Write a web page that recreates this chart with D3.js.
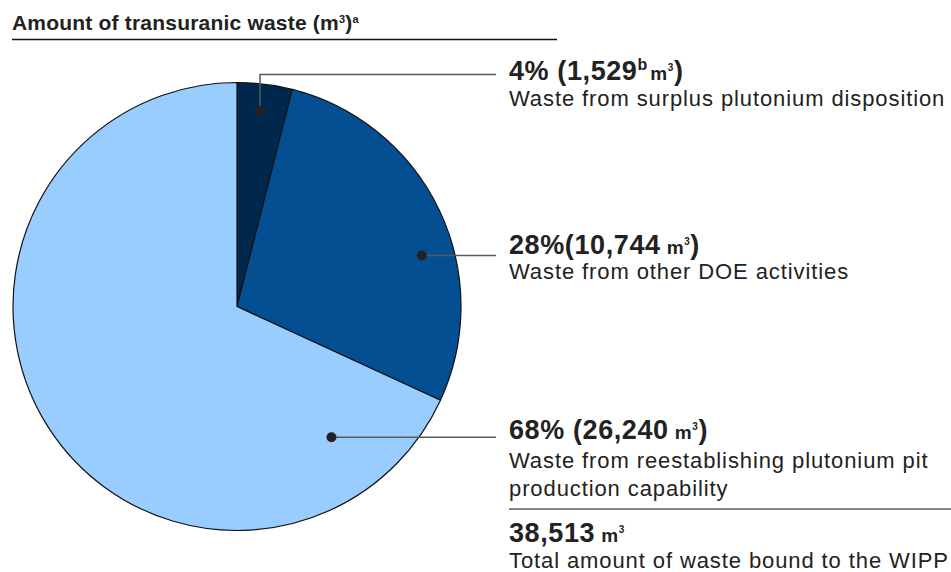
<!DOCTYPE html>
<html>
<head>
<meta charset="utf-8">
<script src="https://cdn.jsdelivr.net/npm/d3@7"></script>
<style>
  body { margin: 0; background: #fff; }
  svg { display: block; font-family: "Liberation Sans", Arial, sans-serif; }
</style>
</head>
<body>
<svg id="chart"></svg>
<script>
// data
const title = "Amount of transuranic waste (m";
const categories = [
  ["Waste from surplus plutonium disposition"],
  ["Waste from other DOE activities"],
  ["Waste from reestablishing plutonium pit", "production capability"]
];
const volumes = [1529, 10744, 26240];
const percents = [4, 28, 68];
const footnotes = ["b", "", ""];
const totalVolume = 38513;
const totalLabel = "Total amount of waste bound to the WIPP";
const colors = ["#00284f", "#044f91", "#99ccff"];

const width = 951, height = 572;
const cx = 237, cy = 306.5, radius = 224;
const labelX = 509, leaderEnd = 496;
// where the dot sits inside each slice (share of the slice angle, share of radius)
const anchorT = [0.47, 0.60, 0.12];
const anchorR = [0.88, 0.856, 0.72];
const headBaseline = [80, 254, 439];
const descBaseline = [[106], [279], [468, 496]];
const elbowY = [74.5, null, null];

const svg = d3.select("#chart").attr("width", width).attr("height", height);
const fmt = d3.format(",");

// title
const t = svg.append("text")
  .attr("x", 12).attr("y", 30)
  .attr("font-size", 21).attr("font-weight", "bold")
  .attr("letter-spacing", 0.2).attr("fill", "#222");
t.append("tspan").text(title);
t.append("tspan").attr("font-size", 11).attr("dy", -7).text("3");
t.append("tspan").attr("dy", 7).text(")");
t.append("tspan").attr("font-size", 11).attr("dy", -7).text("a");

svg.append("line")
  .attr("x1", 12).attr("x2", 557).attr("y1", 39.5).attr("y2", 39.5)
  .attr("stroke", "#111").attr("stroke-width", 1.3);

// pie
const pie = d3.pie().sort(null).value(d => d)(volumes);
const arc = d3.arc().innerRadius(0).outerRadius(radius);

const g = svg.append("g").attr("transform", `translate(${cx},${cy})`);

g.selectAll("path")
  .data(pie)
  .join("path")
  .attr("d", arc)
  .attr("fill", (d, i) => colors[i])
  .attr("stroke", "#111")
  .attr("stroke-width", 1.2)
  .attr("stroke-linejoin", "round");

const anchors = pie.map((d, i) => {
  const a = d.startAngle + anchorT[i] * (d.endAngle - d.startAngle);
  const [x, y] = d3.pointRadial(a, anchorR[i] * radius);
  return [cx + x, cy + y];
});

// leaders
anchors.forEach(([x, y], i) => {
  const pts = elbowY[i] != null
    ? [[x, y], [x, elbowY[i]], [leaderEnd, elbowY[i]]]
    : [[x, y], [leaderEnd, y]];
  svg.append("path")
    .attr("d", d3.line()(pts))
    .attr("fill", "none")
    .attr("stroke", "#5a5a5a")
    .attr("stroke-width", 1.5);
  svg.append("circle")
    .attr("cx", x).attr("cy", y).attr("r", 5)
    .attr("fill", "#222");
});

// labels
volumes.forEach((v, i) => {
  const head = svg.append("text")
    .attr("x", labelX).attr("y", headBaseline[i])
    .attr("font-weight", "bold").attr("font-size", 27)
    .attr("letter-spacing", 0.6).attr("fill", "#222");
  const gap = i === 1 ? "" : " ";
  head.append("tspan").text(`${percents[i]}%${gap}(${fmt(v)}`);
  if (footnotes[i]) {
    head.append("tspan").attr("font-size", 16).attr("dy", -10).attr("letter-spacing", 0).text(footnotes[i]);
    head.append("tspan").attr("font-size", 19).attr("dy", 10).attr("dx", 3).text("m");
  } else {
    head.append("tspan").attr("font-size", 19).attr("dx", 6).text("m");
  }
  head.append("tspan").attr("font-size", 10).attr("dy", -9).text("3");
  head.append("tspan").attr("dy", 9).text(")");

  categories[i].forEach((line, j) => {
    svg.append("text")
      .attr("x", labelX).attr("y", descBaseline[i][j])
      .attr("font-size", 22).attr("letter-spacing", 0.9)
      .attr("fill", "#222")
      .text(line);
  });
});

// total
svg.append("line")
  .attr("x1", labelX).attr("x2", width).attr("y1", 509).attr("y2", 509)
  .attr("stroke", "#5a5a5a").attr("stroke-width", 1.5);

const tot = svg.append("text")
  .attr("x", labelX).attr("y", 542)
  .attr("font-weight", "bold").attr("font-size", 27)
  .attr("letter-spacing", 0.6).attr("fill", "#222");
tot.append("tspan").text(fmt(totalVolume));
tot.append("tspan").attr("font-size", 19).attr("dx", 6).text("m");
tot.append("tspan").attr("font-size", 10).attr("dy", -9).text("3");

svg.append("text")
  .attr("x", labelX).attr("y", 568)
  .attr("font-size", 22).attr("letter-spacing", 0.9)
  .attr("fill", "#222")
  .text(totalLabel);
</script>
</body>
</html>
